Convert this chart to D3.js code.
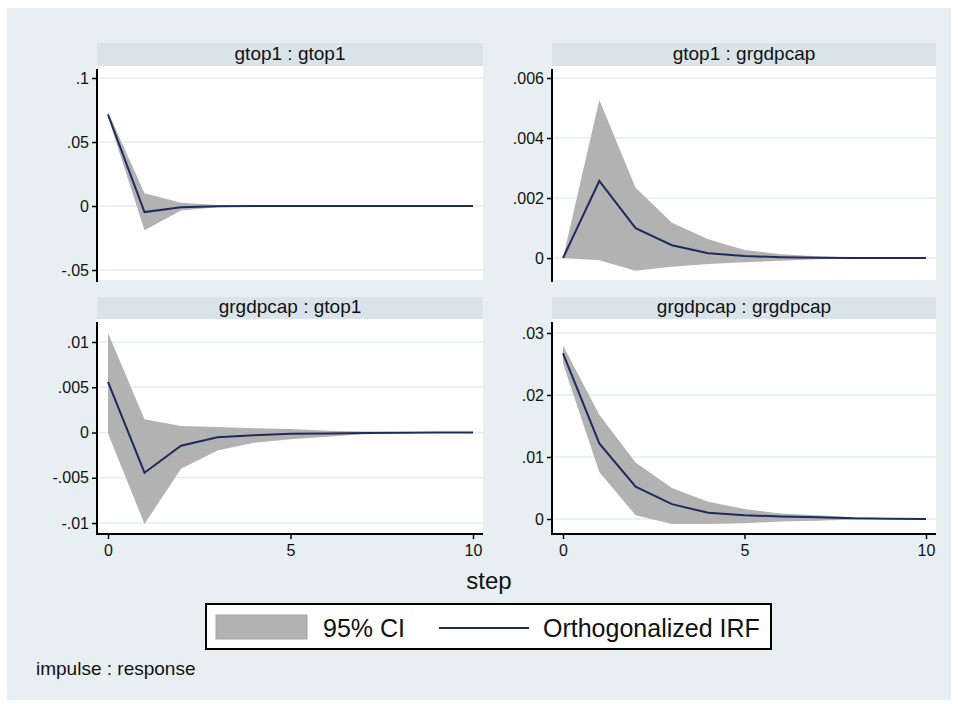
<!DOCTYPE html>
<html>
<head>
<meta charset="utf-8">
<script src="https://cdn.jsdelivr.net/npm/d3@7"></script>
<style>
  body { margin: 0; background: #fff; }
  text { font-family: "Liberation Sans", Arial, sans-serif; fill: #111; }
</style>
</head>
<body>
<script>
// steps of the impulse response
var steps = [0, 1, 2, 3, 4, 5, 6, 7, 8, 9, 10];
var xTicks = [0, 5, 10];

var panelTitles = ["gtop1 : gtop1", "gtop1 : grgdpcap", "grgdpcap : gtop1", "grgdpcap : grgdpcap"];

// gtop1 : gtop1
var irf1 = [0.0715, -0.0047, -0.0010, -0.0002, 0, 0, 0, 0, 0, 0, 0];
var lo1 = [0.0695, -0.0190, -0.0035, -0.0010, -0.0005, -0.0002, 0, 0, 0, 0, 0];
var hi1 = [0.0735, 0.0100, 0.0025, 0.0008, 0.0003, 0.0001, 0, 0, 0, 0, 0];
var yTicks1 = [-0.05, 0, 0.05, 0.1];
var yLabels1 = ["-.05", "0", ".05", ".1"];

// gtop1 : grgdpcap
var irf2 = [0, 0.00257, 0.0010, 0.00043, 0.00016, 0.00007, 0.00003, 0.00001, 0, 0, 0];
var lo2 = [0, -0.00007, -0.00042, -0.00029, -0.00020, -0.00014, -0.00009, -0.00004, -0.00002, 0, 0];
var hi2 = [0, 0.00527, 0.00234, 0.00118, 0.00063, 0.00027, 0.00013, 0.00006, 0.00002, 0, 0];
var yTicks2 = [0, 0.002, 0.004, 0.006];
var yLabels2 = ["0", ".002", ".004", ".006"];

// grgdpcap : gtop1
var irf3 = [0.0056, -0.00444, -0.00146, -0.00053, -0.00030, -0.00013, -0.00010, -0.00006, -0.00002, 0, 0];
var lo3 = [-0.0001, -0.0101, -0.0040, -0.0020, -0.00113, -0.00075, -0.00046, -0.0002, -0.0001, 0, 0];
var hi3 = [0.0110, 0.00146, 0.00072, 0.0006, 0.00046, 0.00039, 0.0002, 0.0001, 0.00005, 0, 0];
var yTicks3 = [-0.01, -0.005, 0, 0.005, 0.01];
var yLabels3 = ["-.01", "-.005", "0", ".005", ".01"];

// grgdpcap : grgdpcap
var irf4 = [0.0267, 0.0122, 0.0052, 0.0024, 0.0010, 0.0006, 0.0004, 0.0003, 0.0001, 0.00005, 0];
var lo4 = [0.0251, 0.0076, 0.0006, -0.0008, -0.0008, -0.0007, -0.0004, -0.0003, -0.0001, 0, 0];
var hi4 = [0.0280, 0.0168, 0.0091, 0.0050, 0.0028, 0.0016, 0.0009, 0.0006, 0.0003, 0.0001, 0];
var yTicks4 = [0, 0.01, 0.02, 0.03];
var yLabels4 = ["0", ".01", ".02", ".03"];

var W = 958, H = 704;
var bandColor = "#b2b2b2", lineColor = "#1e2c5c";

var svg = d3.select("body").append("svg")
    .attr("width", W)
    .attr("height", H);

// graph region
svg.append("rect")
    .attr("x", 7).attr("y", 8)
    .attr("width", 944).attr("height", 692)
    .style("fill", "#e8eff2");

// panel boxes (left, right, strip top, plot top, plot bottom)
var panels = [
    {x0: 97, x1: 483, st: 43, y0: 66, y1: 280, irf: irf1, lo: lo1, hi: hi1, ticks: yTicks1, labels: yLabels1, dom: [-0.0578, 0.1094], xaxis: false},
    {x0: 552, x1: 936, st: 43, y0: 66, y1: 280, irf: irf2, lo: lo2, hi: hi2, ticks: yTicks2, labels: yLabels2, dom: [-0.00073, 0.0064], xaxis: false},
    {x0: 97, x1: 483, st: 297, y0: 319, y1: 533, irf: irf3, lo: lo3, hi: hi3, ticks: yTicks3, labels: yLabels3, dom: [-0.0111, 0.01254], xaxis: true},
    {x0: 552, x1: 936, st: 297, y0: 319, y1: 533, irf: irf4, lo: lo4, hi: hi4, ticks: yTicks4, labels: yLabels4, dom: [-0.00226, 0.03226], xaxis: true}
];

panels.forEach(function(p, i) {
    var g = svg.append("g");

    var x = d3.scaleLinear().domain([0, 10]).range([p.x0 + 11, p.x1 - 10]);
    var y = d3.scaleLinear().domain(p.dom).range([p.y1, p.y0]);

    // title strip
    g.append("rect")
        .attr("x", p.x0).attr("y", p.st)
        .attr("width", p.x1 - p.x0).attr("height", p.y0 - p.st)
        .style("fill", "#d9e4ea");
    g.append("text")
        .attr("x", (p.x0 + p.x1) / 2)
        .attr("y", p.y0 - 6)
        .attr("text-anchor", "middle")
        .style("font-size", "19px")
        .text(panelTitles[i]);

    // plot region
    g.append("rect")
        .attr("x", p.x0).attr("y", p.y0)
        .attr("width", p.x1 - p.x0).attr("height", p.y1 - p.y0)
        .style("fill", "#fff");

    // grid lines
    g.selectAll(".grid")
        .data(p.ticks)
        .enter()
        .append("line")
        .attr("x1", p.x0 + 2).attr("x2", p.x1)
        .attr("y1", function(d) { return y(d); })
        .attr("y2", function(d) { return y(d); })
        .attr("stroke", "#e3ebef")
        .attr("stroke-width", 1.5);

    var rows = steps.map(function(s, k) { return {s: s, irf: p.irf[k], lo: p.lo[k], hi: p.hi[k]}; });

    // 95% CI band
    var area = d3.area()
        .x(function(d) { return x(d.s); })
        .y0(function(d) { return y(d.lo); })
        .y1(function(d) { return y(d.hi); });
    g.append("path")
        .datum(rows)
        .attr("d", area)
        .style("fill", bandColor);

    // IRF line
    var line = d3.line()
        .x(function(d) { return x(d.s); })
        .y(function(d) { return y(d.irf); });
    g.append("path")
        .datum(rows)
        .attr("d", line)
        .style("fill", "none")
        .attr("stroke", lineColor)
        .attr("stroke-width", 2);

    // y axis
    var yAxis = d3.axisLeft(y)
        .tickValues(p.ticks)
        .tickSize(5)
        .tickPadding(3)
        .tickFormat(function(d, k) { return p.labels[k]; });
    var ya = g.append("g")
        .attr("transform", "translate(" + p.x0 + ",0)")
        .call(yAxis);
    ya.select(".domain").remove();
    ya.selectAll("line").attr("stroke", "#000").attr("stroke-width", 1.5);
    ya.selectAll("text").style("font-size", "16px").style("font-family", "Liberation Sans, Arial, sans-serif").attr("fill", "#111");
    g.append("line")
        .attr("x1", p.x0).attr("x2", p.x0)
        .attr("y1", p.y0 + 3).attr("y2", p.y1 + 2)
        .attr("stroke", "#000")
        .attr("stroke-width", 2);

    if (p.xaxis) {
        var xAxis = d3.axisBottom(x)
            .tickValues(xTicks)
            .tickSize(5)
            .tickPadding(6)
            .tickFormat(d3.format("d"));
        var xa = g.append("g")
            .attr("transform", "translate(0," + (p.y1 + 1) + ")")
            .call(xAxis);
        xa.select(".domain").remove();
        xa.selectAll("line").attr("stroke", "#000").attr("stroke-width", 1.5);
        xa.selectAll("text").style("font-size", "16px").style("font-family", "Liberation Sans, Arial, sans-serif").attr("fill", "#111");
        g.append("line")
            .attr("x1", p.x0).attr("x2", p.x1)
            .attr("y1", p.y1 + 1).attr("y2", p.y1 + 1)
            .attr("stroke", "#000")
            .attr("stroke-width", 2);
    }
});

// x axis title
svg.append("text")
    .attr("x", 489).attr("y", 589)
    .attr("text-anchor", "middle")
    .style("font-size", "24px")
    .text("step");

// legend
var leg = svg.append("g");
leg.append("rect")
    .attr("x", 206).attr("y", 604)
    .attr("width", 565).attr("height", 45)
    .style("fill", "#fff")
    .attr("stroke", "#000")
    .attr("stroke-width", 2);
leg.append("rect")
    .attr("x", 216).attr("y", 615)
    .attr("width", 91).attr("height", 24)
    .style("fill", bandColor)
    .attr("stroke", "#a3a3a3")
    .attr("stroke-width", 1);
leg.append("text")
    .attr("x", 323).attr("y", 637)
    .style("font-size", "25px")
    .text("95% CI");
leg.append("line")
    .attr("x1", 439).attr("x2", 529)
    .attr("y1", 628).attr("y2", 628)
    .attr("stroke", lineColor)
    .attr("stroke-width", 2);
leg.append("text")
    .attr("x", 543).attr("y", 637)
    .style("font-size", "25px")
    .text("Orthogonalized IRF");

// note
svg.append("text")
    .attr("x", 36).attr("y", 675)
    .style("font-size", "19px")
    .text("impulse : response");
</script>
</body>
</html>
